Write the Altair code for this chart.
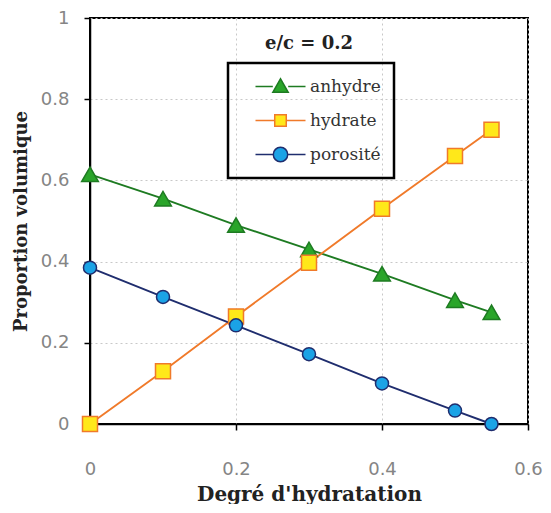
import altair as alt
import pandas as pd

alpha = [0, 0.1, 0.2, 0.3, 0.4, 0.5, 0.55]
anhydre = [0.615, 0.555, 0.49, 0.43, 0.37, 0.305, 0.275]
hydrate = [0.0, 0.13, 0.265, 0.397, 0.53, 0.66, 0.725]
porosite = [0.385, 0.313, 0.243, 0.172, 0.10, 0.033, 0.0]
series = ["anhydre", "hydrate", "porosité"]
line_colors = ["#1E7B22", "#F07A2A", "#1F2D6E"]
fill_colors = ["#2AA52A", "#FFE81A", "#1BA3E6"]
shapes = ["triangle-up", "square", "circle"]
marker_sizes = [280, 170, 230]

rows = []
for name, vals in zip(series, [anhydre, hydrate, porosite]):
    for a, v in zip(alpha, vals):
        rows.append({"alpha": a, "value": v, "serie": name})
df = pd.DataFrame(rows)

# legend symbol paths: short line + marker
leg_tri = "M-2.6,0L-0.8,0M0.8,0L2.6,0M-0.8,0.6L0,-0.8L0.8,0.6Z"
leg_sq = "M-2.6,0L-0.6,0M0.6,0L2.6,0M-0.6,-0.6L0.6,-0.6L0.6,0.6L-0.6,0.6Z"
leg_ci = ("M-2.6,0L-0.75,0M0.75,0L2.6,0M-0.75,0A0.75,0.75,0,1,0,0.75,0"
          "A0.75,0.75,0,1,0,-0.75,0Z")

SERIF = "DejaVu Serif"
axis_common = dict(format="~g", gridDash=[2, 3], gridColor="#c8c8c8",
                   labelColor="#858585", labelFont="DejaVu Sans", labelFontSize=18,
                   titleFont=SERIF,
                   titleFontWeight="bold", titleColor="#222222",
                   domainColor="black", domainWidth=1.5, tickColor="black",
                   tickWidth=1.5, tickSize=6, labelFlush=False)

xs = alt.X("alpha:Q", scale=alt.Scale(domain=[0, 0.6], nice=False),
           axis=alt.Axis(values=[0, 0.2, 0.4, 0.6], title="Degré d'hydratation",
                         titleFontSize=20, labelPadding=30, titlePadding=6, **axis_common))
ys = alt.Y("value:Q", scale=alt.Scale(domain=[0, 1], nice=False),
           axis=alt.Axis(values=[0, 0.2, 0.4, 0.6, 0.8, 1], title="Proportion volumique",
                         titleFontSize=18, labelPadding=15, titlePadding=10, **axis_common))

stroke_scale = alt.Scale(domain=series, range=line_colors)
fill_scale = alt.Scale(domain=series, range=fill_colors)
shape_scale = alt.Scale(domain=series, range=shapes)
size_scale = alt.Scale(domain=series, range=marker_sizes)

legend = alt.Legend(title=None, orient="none", legendX=138, legendY=45,
                    padding=13,
                    labelFont=SERIF, labelFontSize=17, labelColor="#333333",
                    symbolSize=370, rowPadding=14, labelOffset=19, symbolOffset=29,
                    symbolStrokeWidth=1.5, symbolOpacity=1, offset=0)

lines = alt.Chart(df).mark_line(strokeWidth=1.9).encode(
    x=xs, y=ys,
    stroke=alt.Stroke("serie:N", scale=stroke_scale, legend=None),
    detail="serie:N",
)
points = alt.Chart(df).mark_point(filled=False, opacity=1, strokeWidth=1.5).encode(
    x=xs, y=ys,
    stroke=alt.Stroke("serie:N", scale=stroke_scale, legend=None),
    fill=alt.Fill("serie:N", scale=fill_scale, legend=None),
    shape=alt.Shape("serie:N", scale=shape_scale, legend=None),
    size=alt.Size("serie:N", scale=size_scale, legend=None),
)
legend_layer = alt.Chart(df).transform_filter(alt.datum.alpha < 0).mark_point(
    filled=False, opacity=1, strokeWidth=1.5).encode(
    x=xs, y=ys,
    stroke=alt.Stroke("serie:N", scale=stroke_scale, legend=legend),
    fill=alt.Fill("serie:N", scale=fill_scale, legend=legend),
    shape=alt.Shape("serie:N", scale=alt.Scale(domain=series, range=[leg_tri, leg_sq, leg_ci]),
                    legend=legend),
)

chart = alt.layer(lines, points, legend_layer).resolve_scale(
    shape="independent", fill="independent", stroke="independent", size="independent"
).properties(
    width=438, height=406,
    title=alt.TitleParams("e/c = 0.2", font=SERIF, fontSize=18,
                          fontWeight="bold", color="#222222", dy=48, anchor="middle"),
    padding={"left": 82, "top": 10, "right": 15, "bottom": 80},
    autosize="none",
).configure_view(stroke="black", strokeWidth=2).configure_title(
    offset=0
).configure_legend(strokeColor="black", strokeWidth=2.5)

chart.save("out.html", embed_options={"renderer": "svg", "actions": False})
